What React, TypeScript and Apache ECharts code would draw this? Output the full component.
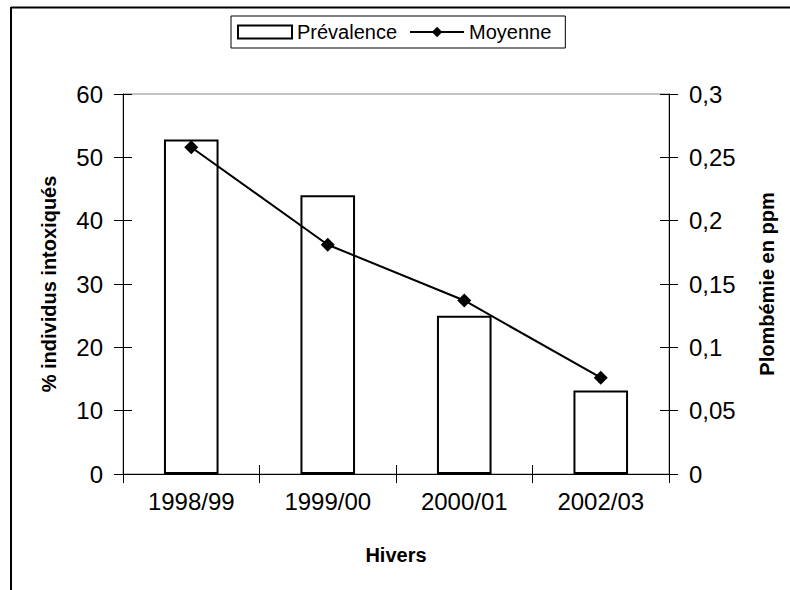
import React, { useEffect, useRef } from "react";
import * as echarts from "echarts";

const categories = ["1998/99", "1999/00", "2000/01", "2002/03"];
const prevalence = [52.8, 44, 25, 13.2];
const moyenne = [0.258, 0.181, 0.137, 0.076];
const leftTicks = { min: 0, max: 60, interval: 10 };
const rightTicks = { min: 0, max: 0.3, interval: 0.05 };

const FONT = "'Liberation Sans', Arial, sans-serif";

export default function App() {
  const ref = useRef<HTMLDivElement>(null);
  useEffect(() => {
    if (!ref.current) return;
    const chart = echarts.init(ref.current, undefined, { renderer: "svg" });
    const fmtRight = (v: number) => String(Math.round(v * 100) / 100).replace(".", ",");
    const tickInside = { show: true, inside: true, length: 9, lineStyle: { color: "#000", width: 1 } };
    const tickOutside = { show: true, inside: false, length: 9, lineStyle: { color: "#000", width: 1 } };
    const titleStyle = { fontSize: 20, fontWeight: "bold", color: "#000", fontFamily: FONT };
    const tickLabel = { color: "#000", fontSize: 24, fontFamily: FONT };
    chart.setOption({
      animation: false,
      backgroundColor: "#fff",
      textStyle: { fontFamily: FONT },
      grid: {
        left: 123,
        top: 94,
        right: 121,
        bottom: 116,
        show: true,
        borderColor: "#888",
        borderWidth: 1,
        backgroundColor: "transparent",
      },
      legend: {
        top: 16,
        left: 231,
        padding: [6, 14, 6, 6],
        borderColor: "#000",
        borderWidth: 1,
        itemGap: 12,
        itemWidth: 54,
        itemHeight: 13,
        textStyle: { fontSize: 20, color: "#000", fontFamily: FONT },
        data: [
          { name: "Prévalence", icon: "rect", itemStyle: { color: "#fff", borderColor: "#000", borderWidth: 2 } },
          { name: "Moyenne" },
        ],
      },
      xAxis: [
        {
          type: "category",
          data: categories,
          position: "bottom",
          boundaryGap: true,
          axisLine: { lineStyle: { color: "#000", width: 1 } },
          axisTick: tickOutside,
          axisLabel: { ...tickLabel, margin: 15 },
          name: "Hivers",
          nameLocation: "middle",
          nameGap: 71,
          nameTextStyle: titleStyle,
        },
        {
          type: "category",
          data: categories,
          position: "bottom",
          boundaryGap: true,
          axisLine: { show: false },
          axisTick: tickInside,
          axisLabel: { show: false },
        },
      ],
      yAxis: [
        {
          type: "value",
          position: "left",
          ...leftTicks,
          axisLine: { show: true, lineStyle: { color: "#000", width: 1 } },
          axisTick: tickOutside,
          splitLine: { show: false },
          axisLabel: { ...tickLabel, margin: 20 },
          name: "% individus intoxiqués",
          nameLocation: "middle",
          nameRotate: 90,
          nameGap: 64,
          nameTextStyle: titleStyle,
        },
        {
          type: "value",
          position: "right",
          ...rightTicks,
          axisLine: { show: true, lineStyle: { color: "#000", width: 1 } },
          axisTick: tickOutside,
          splitLine: { show: false },
          axisLabel: { ...tickLabel, margin: 20, formatter: fmtRight },
          name: "Plombémie en ppm",
          nameLocation: "middle",
          nameRotate: 90,
          nameGap: 88,
          nameTextStyle: titleStyle,
        },
        {
          type: "value",
          position: "left",
          ...leftTicks,
          axisLine: { show: false },
          axisTick: tickInside,
          splitLine: { show: false },
          axisLabel: { show: false },
        },
        {
          type: "value",
          position: "right",
          ...rightTicks,
          axisLine: { show: false },
          axisTick: tickInside,
          splitLine: { show: false },
          axisLabel: { show: false },
        },
      ],
      series: [
        {
          name: "Prévalence",
          type: "bar",
          data: prevalence,
          xAxisIndex: 0,
          yAxisIndex: 0,
          barWidth: "40%",
          itemStyle: { color: "#fff", borderColor: "#000", borderWidth: 2 },
        },
        {
          name: "Moyenne",
          type: "line",
          data: moyenne,
          xAxisIndex: 0,
          yAxisIndex: 1,
          symbol: "diamond",
          symbolSize: 14,
          lineStyle: { color: "#000", width: 2 },
          itemStyle: { color: "#000" },
        },
      ],
      graphic: [
        { type: "line", shape: { x1: 11, y1: 7.5, x2: 790, y2: 7.5 }, style: { stroke: "#000", lineWidth: 2 } },
        { type: "line", shape: { x1: 11, y1: 7, x2: 11, y2: 590 }, style: { stroke: "#000", lineWidth: 2 } },
      ],
    });
    return () => chart.dispose();
  }, []);
  return (
    <div
      ref={ref}
      style={{ position: "fixed", left: 0, top: 0, width: 790, height: 590 }}
    />
  );
}
